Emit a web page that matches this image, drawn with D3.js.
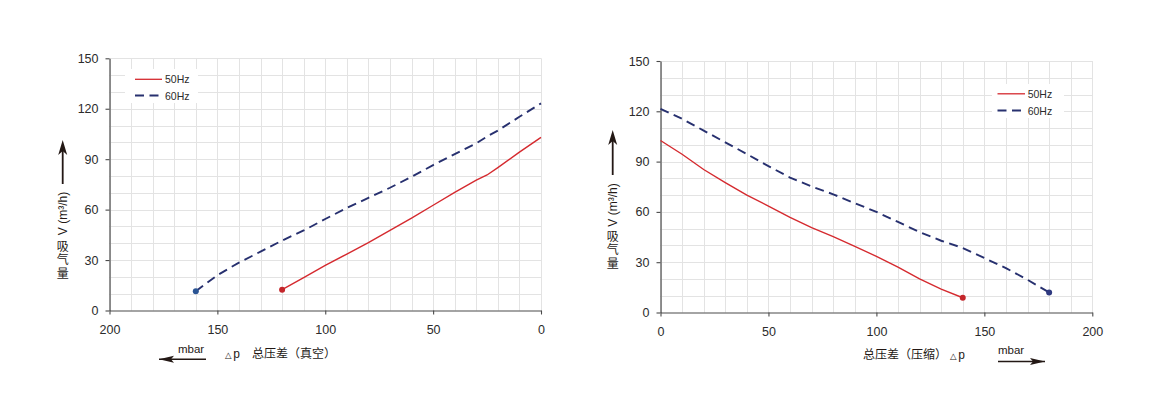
<!DOCTYPE html>
<html><head><meta charset="utf-8">
<script src="https://cdn.jsdelivr.net/npm/d3@7"></script>
<style>body{margin:0;background:#fff}svg{display:block}</style>
</head><body><svg id="c" width="1160" height="420"></svg>
<script>
// ---------- data ----------
const yTicks = [0, 30, 60, 90, 120, 150];
const xTicks = [0, 50, 100, 150, 200];
const seriesNames = ["50Hz", "60Hz"];
const yTitleLatin = "V (m³/h)";
const yTitleCJK = "吸气量";
const unitLabel = "mbar";
const vacTitle = "总压差（真空）";
const prsTitle = "总压差（压缩）";

// vacuum (left chart): pressure difference (mbar) vs flow (m³/h)
const vacP50 = [120, 110, 100, 90, 80, 70, 60, 50, 40, 30, 25, 20, 10, 0];
const vacV50 = [12.4, 19.6, 26.8, 33.6, 40.4, 47.6, 55, 62.6, 70.2, 77.6, 80.6, 85, 94.2, 103];
const vacP60 = [160, 150, 140, 130, 120, 110, 100, 90, 80, 70, 60, 50, 40, 30, 25, 20, 10, 0];
const vacV60 = [11.5, 21, 28.5, 35, 41.6, 47.6, 54.4, 61, 67, 73, 79.5, 86.5, 93, 99.4, 103.5, 107, 115.2, 123.2];

// pressure (right chart)
const prsP50 = [0, 10, 20, 30, 40, 50, 60, 70, 80, 90, 100, 110, 120, 130, 140];
const prsV50 = [102.6, 94.4, 85.3, 77.5, 70, 63.5, 56.8, 50.6, 45.2, 39.5, 33.5, 27, 20, 14, 8.8];
const prsP60 = [0, 10, 20, 30, 40, 50, 60, 70, 80, 90, 100, 110, 120, 130, 140, 150, 160, 170, 180];
const prsV60 = [121.5, 115.5, 108.5, 101.5, 94.5, 87.3, 80.5, 75.2, 70.5, 65.2, 60, 54, 48, 42.8, 38.5, 32.5, 26.5, 19.5, 12];

// ---------- drawing ----------
const svg = d3.select("#c");
const RED = "#d52a2f", NAVY = "#27306f", INK = "#231815";
const FONT = "'Liberation Sans', Arial, sans-serif";
const CJK = "'Noto Sans CJK SC', sans-serif";

function arrowHead(g, tipX, tipY, dir, len, half, notch) {
  let p;
  if (dir === "left") p = [[tipX, tipY], [tipX + len, tipY - half], [tipX + len - notch, tipY], [tipX + len, tipY + half]];
  else if (dir === "right") p = [[tipX, tipY], [tipX - len, tipY - half], [tipX - len + notch, tipY], [tipX - len, tipY + half]];
  else p = [[tipX, tipY], [tipX - half, tipY + len], [tipX, tipY + len - notch], [tipX + half, tipY + len]];
  g.append("path").attr("d", "M" + p.map(d => d.join(",")).join("L") + "Z").attr("fill", INK);
}

function panel(o) {
  const x = d3.scaleLinear().domain(o.xDomain).range([o.left, o.right]);
  const y = d3.scaleLinear().domain([0, 150]).range([o.bottom, o.top]);
  const g = svg.append("g");

  // grid
  g.selectAll(".vg").data(d3.range(0, 201, 10)).join("line")
    .attr("x1", d => Math.round(x(d)) + 0.5).attr("x2", d => Math.round(x(d)) + 0.5)
    .attr("y1", o.top).attr("y2", o.bottom).attr("stroke", "#e3e3e3").attr("stroke-width", 1);
  g.selectAll(".hg").data(d3.range(10, 151, 10)).join("line")
    .attr("y1", d => Math.round(y(d)) + 0.5).attr("y2", d => Math.round(y(d)) + 0.5)
    .attr("x1", o.left).attr("x2", o.right).attr("stroke", "#e3e3e3").attr("stroke-width", 1);

  // axes
  const xa = g.append("g").attr("transform", `translate(0,${o.bottom})`)
    .call(d3.axisBottom(x).tickValues(xTicks).tickSize(4).tickSizeOuter(0).tickPadding(11));
  const ya = g.append("g").attr("transform", `translate(${o.left},0)`)
    .call(d3.axisLeft(y).tickValues(yTicks).tickSize(4).tickSizeOuter(0).tickPadding(7));
  [xa, ya].forEach(a => {
    a.select(".domain").attr("stroke", "#4a4a4a").attr("stroke-width", 1.2);
    a.selectAll(".tick line").attr("stroke", "#4a4a4a").attr("stroke-width", 1.1);
    a.selectAll(".tick text").attr("fill", "#2b2b2b").style("font-family", FONT).style("font-size", "12.5px");
  });

  // series
  const line = d3.line().x(d => x(d[0])).y(d => y(d[1]));
  const s50 = o.p50.map((p, i) => [p, o.v50[i]]);
  const s60 = o.p60.map((p, i) => [p, o.v60[i]]);
  g.append("path").datum(s50).attr("d", line).attr("fill", "none")
    .attr("stroke", RED).attr("stroke-width", 1.4);
  g.append("path").datum(s60).attr("d", line).attr("fill", "none")
    .attr("stroke", NAVY).attr("stroke-width", 1.9).attr("stroke-dasharray", "9,5.5");
  const e50 = o.dotEnd === "first" ? s50[0] : s50[s50.length - 1];
  const e60 = o.dotEnd === "first" ? s60[0] : s60[s60.length - 1];
  g.append("circle").attr("cx", x(e50[0])).attr("cy", y(e50[1])).attr("r", 3).attr("fill", "#c4262b");
  g.append("circle").attr("cx", x(e60[0])).attr("cy", y(e60[1])).attr("r", 3).attr("fill", o.dot60);

  // legend
  const L = o.legend;
  g.append("rect").attr("x", L.x).attr("y", L.y).attr("width", L.w).attr("height", L.h).attr("fill", "#fff");
  seriesNames.forEach((n, i) => {
    const ly = L.ly[i];
    g.append("line").attr("x1", L.lx0).attr("x2", L.lx1).attr("y1", ly).attr("y2", ly)
      .attr("stroke", i === 0 ? RED : NAVY).attr("stroke-width", i === 0 ? 1.3 : 1.8)
      .attr("stroke-dasharray", i === 0 ? null : "9,5.5");
    g.append("text").attr("x", L.tx).attr("y", ly + 4).text(n)
      .attr("fill", "#2b2b2b").style("font-family", FONT).style("font-size", "10.5px");
  });

  // y title: arrow + rotated latin + vertical upright CJK
  const Y = o.ytitle;
  g.append("line").attr("x1", Y.x).attr("x2", Y.x).attr("y1", Y.arrowBottom).attr("y2", Y.arrowTip + 10)
    .attr("stroke", INK).attr("stroke-width", 1.8);
  arrowHead(g, Y.x, Y.arrowTip, "up", 15, 4.5, 4);
  g.append("text").attr("transform", `translate(${Y.x},${Y.latinC}) rotate(-90)`)
    .attr("text-anchor", "middle").attr("dy", "0.36em").text(yTitleLatin)
    .attr("fill", INK).style("font-family", FONT).style("font-size", "12px");
  g.append("text").attr("x", Y.x).attr("y", Y.cjkTop).text(yTitleCJK)
    .attr("fill", INK).style("font-family", CJK).style("font-size", "12px")
    .style("writing-mode", "vertical-rl").style("text-orientation", "upright")
    .style("letter-spacing", "1.3px");

  // x title
  const X = o.xtitle;
  g.append("text").attr("x", X.mbarX).attr("y", X.mbarY).text(unitLabel)
    .attr("fill", INK).style("font-family", FONT).style("font-size", "11.5px");
  g.append("line").attr("x1", X.ax0).attr("x2", X.ax1).attr("y1", X.ay).attr("y2", X.ay)
    .attr("stroke", INK).attr("stroke-width", 1.6);
  if (X.dir === "left") arrowHead(g, X.ax0, X.ay, "left", 15, 3.5, 3);
  else arrowHead(g, X.ax1, X.ay, "right", 15, 3.5, 3);
  g.append("text").attr("x", X.titleX).attr("y", X.titleY).text(X.title)
    .attr("fill", INK).style("font-family", CJK).style("font-size", "12px");
  const dp = g.append("text").attr("x", X.dpX).attr("y", X.titleY).attr("fill", INK);
  dp.append("tspan").attr("dy", -0.5).text("△").style("font-family", "'DejaVu Sans', sans-serif").style("font-size", "8.5px");
  dp.append("tspan").attr("dx", 1.5).attr("dy", 0.5).text("p").style("font-family", "'Liberation Mono', monospace").style("font-size", "12px");
}

panel({
  xDomain: [200, 0], left: 109.5, right: 541, top: 58.3, bottom: 310.5,
  p50: vacP50, v50: vacV50, p60: vacP60, v60: vacV60, dotEnd: "first", dot60: "#2a5493",
  legend: { x: 125, y: 69, w: 73, h: 34, lx0: 135, lx1: 162, tx: 165, ly: [79.3, 95.5] },
  ytitle: { x: 62.7, arrowTip: 140, arrowBottom: 184, latinC: 213.5, cjkTop: 240.5 },
  xtitle: { dir: "left", mbarX: 178, mbarY: 353, ax0: 159, ax1: 206, ay: 359.3,
            title: vacTitle, titleX: 252, titleY: 358, dpX: 225 }
});

panel({
  xDomain: [0, 200], left: 660.5, right: 1092.3, top: 61, bottom: 312.5,
  p50: prsP50, v50: prsV50, p60: prsP60, v60: prsV60, dotEnd: "last", dot60: "#2f3a80",
  legend: { x: 992, y: 84, w: 72, h: 34, lx0: 997.5, lx1: 1025, tx: 1027.7, ly: [93.8, 110.5] },
  ytitle: { x: 612.7, arrowTip: 130, arrowBottom: 175, latinC: 205, cjkTop: 230.5 },
  xtitle: { dir: "right", mbarX: 998, mbarY: 354, ax0: 998, ax1: 1045, ay: 361.5,
            title: prsTitle, titleX: 863, titleY: 359, dpX: 950 }
});
</script>
</body></html>
